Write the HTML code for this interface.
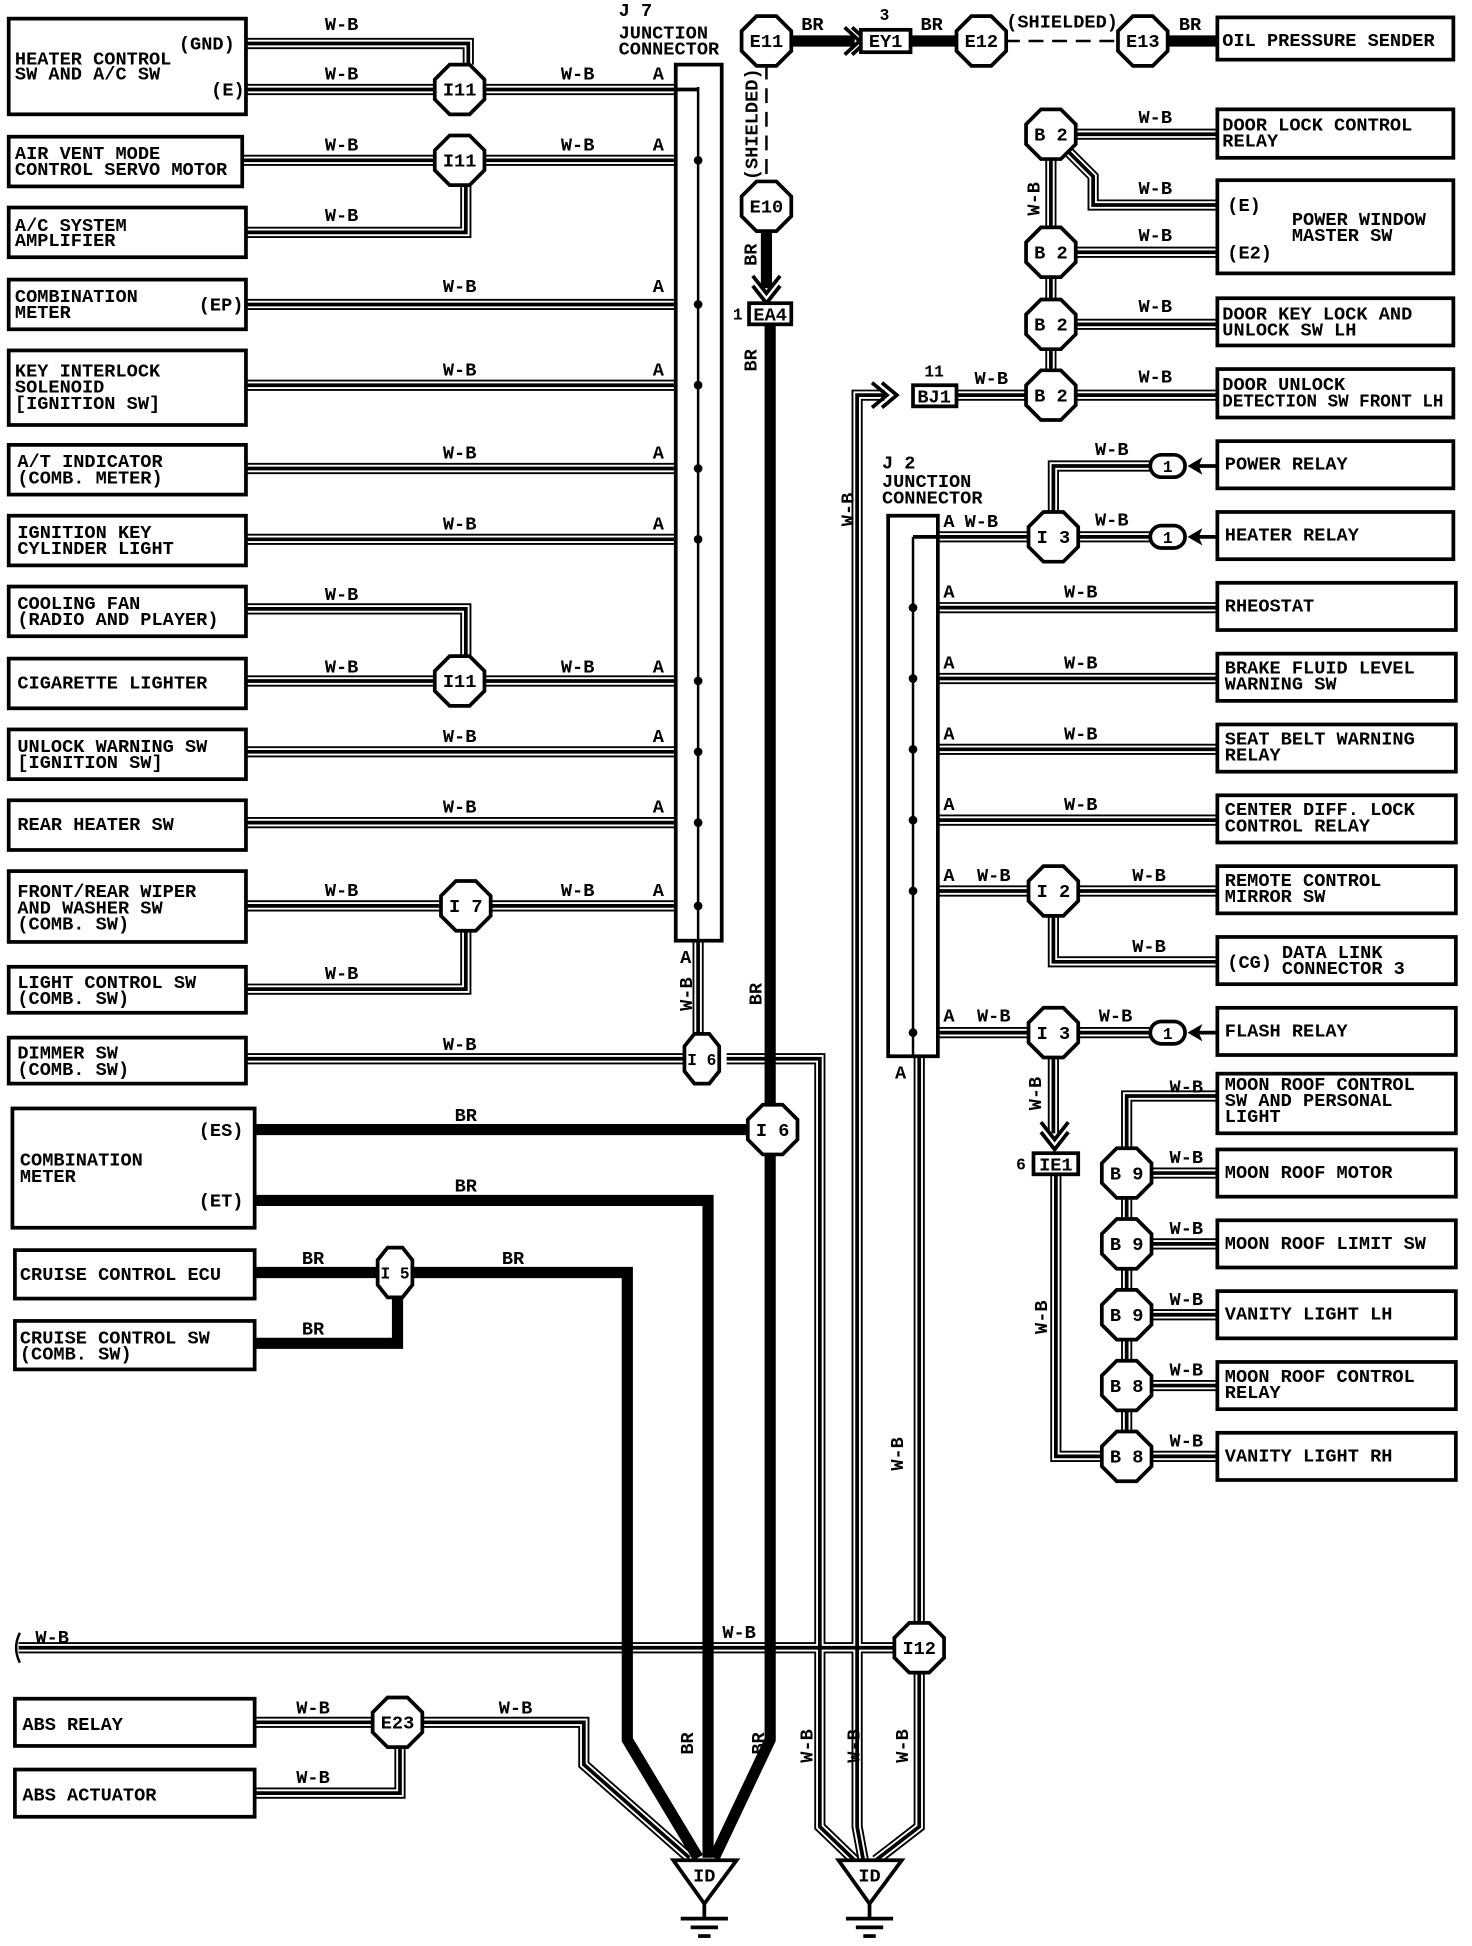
<!DOCTYPE html>
<html><head><meta charset="utf-8"><style>
html,body{margin:0;padding:0;background:#fff}
svg{display:block}
text{font-family:"Liberation Mono",monospace;font-weight:bold;font-size:15px;fill:#000}
.s{font-size:13px}
.box{fill:#fff;stroke:#000;stroke-width:3}
.oct{fill:#fff;stroke:#000;stroke-width:3}
</style></head><body>
<svg width="1472" height="1946" viewBox="0 0 1185 1566" preserveAspectRatio="none" xmlns="http://www.w3.org/2000/svg">
<defs>
<polygon id="oct" points="-8,-20 8,-20 20,-8 20,8 8,20 -8,20 -20,8 -20,-8"/>
<polygon id="octn" points="-6,-20 6,-20 14,-10 14,10 6,20 -6,20 -14,10 -14,-10"/>
<g id="wb" fill="none" stroke-linejoin="miter">
<path d="M198,35 H377 V52"/>
<path d="M198,72 H562"/>
<path d="M195,129 H562"/>
<path d="M198,187 H375 V149"/>
<path d="M198,245 H562"/><path d="M198,310 H562"/><path d="M198,377 H562"/><path d="M198,434 H562"/>
<path d="M198,490 H375 V528"/><path d="M198,548 H562"/>
<path d="M198,605 H562"/><path d="M198,662 H562"/>
<path d="M198,729 H562"/><path d="M198,796 H375 V749"/>
<path d="M198,852 H562"/>
<path d="M562,757 V832"/>
<path d="M585,852 H660 V1470 L688,1497"/>
<path d="M205,1386 H470 V1420 L555,1495"/>
<path d="M205,1443 H322 V1406"/>
<path d="M15,1326 H740"/>
<path d="M712,318 H690 V1470 L695,1497"/>
<path d="M740,850 V1470 L705,1497"/>
<path d="M755,432 H930"/><path d="M848,432 V375 H930"/>
<path d="M755,489 H980"/><path d="M755,546 H980"/><path d="M755,603 H980"/><path d="M755,660 H980"/>
<path d="M755,717 H980"/><path d="M848,717 V774 H980"/>
<path d="M755,831 H930"/><path d="M848,831 V912"/>
<path d="M846,108 H980"/><path d="M846,108 L880,142 V165 H980"/>
<path d="M846,203 H980"/><path d="M846,261 H980"/><path d="M770,318 H980"/>
<path d="M846,108 V318"/>
<path d="M907,944 V882 H980"/><path d="M907,944 V1172"/>
<path d="M907,944 H980"/><path d="M907,1001 H980"/><path d="M907,1058 H980"/><path d="M907,1115 H980"/><path d="M907,1172 H980"/>
<path d="M850,945 V1172 H907"/>
</g>
</defs>
<use href="#wb" stroke="#000" stroke-width="9"/>
<use href="#wb" stroke="#fff" stroke-width="6"/>
<use href="#wb" stroke="#000" stroke-width="3"/>

<g fill="none" stroke="#000" stroke-width="9" stroke-linejoin="miter">
<path d="M617,33 H688"/><path d="M733,33 H790"/><path d="M920,33 H980"/>
<path d="M617,166 V232"/>
<path d="M620,261 V1400 L575,1495"/>
<path d="M205,909 H622"/>
<path d="M205,966 H570 V1495"/>
<path d="M205,1024 H505 V1400 L562,1495"/>
<path d="M205,1081 H320 V1044"/>
</g>
<g fill="none" stroke="#000" stroke-width="2" stroke-dasharray="12,7">
<path d="M790,33 H920"/><path d="M617,33 V166"/>
</g>
<g fill="none" stroke="#000" stroke-width="3">
<path d="M680,22 L692,33 L680,44"/><path d="M686,22 L698,33 L686,44"/>
<path d="M606,222 L617,236 L628,222"/><path d="M606,230 L617,244 L628,230"/>
<path d="M702,308 L714,318 L702,328"/><path d="M710,308 L722,318 L710,328"/>
<path d="M838,903 L849,917 L860,903"/><path d="M838,911 L849,925 L860,911"/>
</g>
<rect x="544" y="52" width="37" height="705" class="box"/>
<line x1="562" y1="70" x2="562" y2="757" stroke="#000" stroke-width="2"/>
<line x1="544" y1="72" x2="562" y2="72" stroke="#000" stroke-width="3"/>
<g fill="#000"><circle cx="562" cy="129" r="3.5"/><circle cx="562" cy="245" r="3.5"/><circle cx="562" cy="310" r="3.5"/><circle cx="562" cy="377" r="3.5"/><circle cx="562" cy="434" r="3.5"/><circle cx="562" cy="548" r="3.5"/><circle cx="562" cy="605" r="3.5"/><circle cx="562" cy="662" r="3.5"/><circle cx="562" cy="729" r="3.5"/></g>
<rect x="715" y="415" width="40" height="435" class="box"/>
<line x1="735" y1="432" x2="735" y2="850" stroke="#000" stroke-width="2"/>
<line x1="735" y1="432" x2="755" y2="432" stroke="#000" stroke-width="3"/>
<g fill="#000"><circle cx="735" cy="489" r="3.5"/><circle cx="735" cy="546" r="3.5"/><circle cx="735" cy="603" r="3.5"/><circle cx="735" cy="660" r="3.5"/><circle cx="735" cy="717" r="3.5"/><circle cx="735" cy="831" r="3.5"/></g>

<rect x="7" y="15" width="191" height="77" class="box"/>
<rect x="7" y="110" width="188" height="40" class="box"/>
<rect x="7" y="167" width="191" height="40" class="box"/>
<rect x="7" y="225" width="191" height="40" class="box"/>
<rect x="7" y="282" width="191" height="60" class="box"/>
<rect x="7" y="358" width="191" height="40" class="box"/>
<rect x="7" y="415" width="191" height="40" class="box"/>
<rect x="7" y="472" width="191" height="40" class="box"/>
<rect x="7" y="530" width="191" height="40" class="box"/>
<rect x="7" y="587" width="191" height="40" class="box"/>
<rect x="7" y="644" width="191" height="40" class="box"/>
<rect x="7" y="701" width="191" height="57" class="box"/>
<rect x="7" y="778" width="191" height="37" class="box"/>
<rect x="7" y="835" width="191" height="37" class="box"/>
<rect x="10" y="892" width="195" height="96" class="box"/>
<rect x="12" y="1006" width="193" height="39" class="box"/>
<rect x="12" y="1063" width="193" height="39" class="box"/>
<rect x="12" y="1367" width="193" height="38" class="box"/>
<rect x="12" y="1424" width="193" height="38" class="box"/>
<rect x="980" y="14" width="190" height="34" class="box"/>
<rect x="980" y="88" width="190" height="39" class="box"/>
<rect x="980" y="145" width="190" height="75" class="box"/>
<rect x="980" y="240" width="190" height="38" class="box"/>
<rect x="980" y="297" width="190" height="39" class="box"/>
<rect x="980" y="355" width="190" height="38" class="box"/>
<rect x="980" y="412" width="190" height="38" class="box"/>
<rect x="980" y="469" width="192" height="38" class="box"/>
<rect x="980" y="526" width="192" height="38" class="box"/>
<rect x="980" y="583" width="192" height="38" class="box"/>
<rect x="980" y="640" width="192" height="38" class="box"/>
<rect x="980" y="697" width="192" height="38" class="box"/>
<rect x="980" y="754" width="192" height="38" class="box"/>
<rect x="980" y="811" width="192" height="38" class="box"/>
<rect x="980" y="864" width="192" height="48" class="box"/>
<rect x="980" y="925" width="192" height="38" class="box"/>
<rect x="980" y="982" width="192" height="38" class="box"/>
<rect x="980" y="1039" width="192" height="38" class="box"/>
<rect x="980" y="1096" width="192" height="38" class="box"/>
<rect x="980" y="1153" width="192" height="38" class="box"/>
<rect x="693" y="24" width="40" height="18" class="box"/>
<rect x="603" y="244" width="34" height="17" class="box"/>
<rect x="735" y="310" width="35" height="17" class="box"/>
<rect x="832" y="928" width="36" height="17" class="box"/>

<g class="oct">
<use href="#oct" x="370" y="72"/><use href="#oct" x="370" y="129"/><use href="#oct" x="370" y="548"/><use href="#oct" x="375" y="729"/>
<use href="#octn" x="565" y="852"/><use href="#oct" x="622" y="909"/><use href="#octn" x="318" y="1024"/>
<use href="#oct" x="617" y="33"/><use href="#oct" x="790" y="33"/><use href="#oct" x="920" y="33"/><use href="#oct" x="617" y="166"/>
<use href="#oct" x="846" y="108"/><use href="#oct" x="846" y="203"/><use href="#oct" x="846" y="261"/><use href="#oct" x="846" y="318"/>
<use href="#oct" x="848" y="432"/><use href="#oct" x="848" y="717"/><use href="#oct" x="848" y="831"/>
<use href="#oct" x="907" y="944"/><use href="#oct" x="907" y="1001"/><use href="#oct" x="907" y="1058"/><use href="#oct" x="907" y="1115"/><use href="#oct" x="907" y="1172"/>
<use href="#oct" x="740" y="1326"/><use href="#oct" x="320" y="1386"/>
</g>
<g fill="#fff" stroke="#000" stroke-width="3">
<rect x="926" y="366" width="28" height="18" rx="9"/>
<rect x="926" y="423" width="28" height="18" rx="9"/>
<rect x="926" y="822" width="28" height="18" rx="9"/>
</g>
<g fill="#000"><path d="M956,375 L968,368 L965,375 L968,382 Z"/><path d="M956,432 L968,425 L965,432 L968,439 Z"/><path d="M956,831 L968,824 L965,831 L968,838 Z"/></g>
<g stroke="#000" stroke-width="3"><line x1="964" y1="375" x2="980" y2="375"/><line x1="964" y1="432" x2="980" y2="432"/><line x1="964" y1="831" x2="980" y2="831"/></g>

<g fill="#fff" stroke="#000" stroke-width="3">
<path d="M542,1497 H593 L567,1532 Z"/><path d="M675,1497 H726 L700,1532 Z"/>
</g>
<g stroke="#000" stroke-width="3">
<line x1="567" y1="1532" x2="567" y2="1544"/><line x1="548" y1="1544" x2="586" y2="1544"/><line x1="556" y1="1551" x2="578" y2="1551"/><line x1="562" y1="1558" x2="572" y2="1558"/>
<line x1="700" y1="1532" x2="700" y2="1544"/><line x1="681" y1="1544" x2="719" y2="1544"/><line x1="689" y1="1551" x2="711" y2="1551"/><line x1="695" y1="1558" x2="705" y2="1558"/>
</g>
<path d="M16,1314 Q10,1326 16,1338" fill="none" stroke="#000" stroke-width="2"/>

<g text-anchor="middle">
<text x="370" y="77">I11</text><text x="370" y="134">I11</text><text x="370" y="553">I11</text><text x="375" y="734">I 7</text>
<text x="565" y="857" class="s">I 6</text><text x="622" y="914">I 6</text><text x="318" y="1029" class="s">I 5</text>
<text x="617" y="38">E11</text><text x="790" y="38">E12</text><text x="920" y="38">E13</text><text x="617" y="171">E10</text>
<text x="846" y="113">B 2</text><text x="846" y="208">B 2</text><text x="846" y="266">B 2</text><text x="846" y="323">B 2</text>
<text x="848" y="437">I 3</text><text x="848" y="722">I 2</text><text x="848" y="836">I 3</text>
<text x="907" y="949">B 9</text><text x="907" y="1006">B 9</text><text x="907" y="1063">B 9</text><text x="907" y="1120">B 8</text><text x="907" y="1177">B 8</text>
<text x="740" y="1331">I12</text><text x="320" y="1391">E23</text>
<text x="940" y="380" class="s">1</text><text x="940" y="437" class="s">1</text><text x="940" y="836" class="s">1</text>
<text x="713" y="38">EY1</text><text x="620" y="258">EA4</text><text x="752" y="324">BJ1</text><text x="850" y="942">IE1</text>
<text x="567" y="1514">ID</text><text x="700" y="1514">ID</text>
<text x="712" y="16" class="s">3</text><text x="752" y="303" class="s">11</text>
</g>
<text x="590" y="257" class="s">1</text><text x="818" y="941" class="s">6</text>

<g class="s">
<text x="144" y="40">(GND)</text><text x="170" y="77">(E)</text><text x="160" y="250">(EP)</text>
<text x="160" y="914">(ES)</text><text x="160" y="971">(ET)</text>
<text x="988" y="170">(E)</text><text x="988" y="208">(E2)</text><text x="988" y="779">(CG)</text>
</g>
<g class="s">
<text x="12" y="52">HEATER CONTROL</text><text x="12" y="64">SW AND A/C SW</text>
<text x="12" y="128">AIR VENT MODE</text><text x="12" y="141">CONTROL SERVO MOTOR</text>
<text x="12" y="186">A/C SYSTEM</text><text x="12" y="198">AMPLIFIER</text>
<text x="12" y="243">COMBINATION</text><text x="12" y="256">METER</text>
<text x="12" y="303">KEY INTERLOCK</text><text x="12" y="316">SOLENOID</text><text x="12" y="329">[IGNITION SW]</text>
<text x="14" y="376">A/T INDICATOR</text><text x="14" y="389">(COMB. METER)</text>
<text x="14" y="433">IGNITION KEY</text><text x="14" y="446">CYLINDER LIGHT</text>
<text x="14" y="490">COOLING FAN</text><text x="14" y="503">(RADIO AND PLAYER)</text>
<text x="14" y="554">CIGARETTE LIGHTER</text>
<text x="14" y="605">UNLOCK WARNING SW</text><text x="14" y="618">[IGNITION SW]</text>
<text x="14" y="668">REAR HEATER SW</text>
<text x="14" y="722">FRONT/REAR WIPER</text><text x="14" y="735">AND WASHER SW</text><text x="14" y="748">(COMB. SW)</text>
<text x="14" y="795">LIGHT CONTROL SW</text><text x="14" y="808">(COMB. SW)</text>
<text x="14" y="852">DIMMER SW</text><text x="14" y="865">(COMB. SW)</text>
<text x="16" y="938">COMBINATION</text><text x="16" y="951">METER</text>
<text x="16" y="1030">CRUISE CONTROL ECU</text>
<text x="16" y="1081">CRUISE CONTROL SW</text><text x="16" y="1094">(COMB. SW)</text>
<text x="18" y="1392">ABS RELAY</text><text x="18" y="1449">ABS ACTUATOR</text>
<text x="498" y="13">J 7</text><text x="498" y="31">JUNCTION</text><text x="498" y="44">CONNECTOR</text>
<text x="710" y="377">J 2</text><text x="710" y="392">JUNCTION</text><text x="710" y="405">CONNECTOR</text>
<text x="984" y="37">OIL PRESSURE SENDER</text>
<text x="984" y="105">DOOR LOCK CONTROL</text><text x="984" y="118">RELAY</text>
<text x="1040" y="181">POWER WINDOW</text><text x="1040" y="194">MASTER SW</text>
<text x="984" y="257">DOOR KEY LOCK AND</text><text x="984" y="270">UNLOCK SW LH</text>
<text x="984" y="314">DOOR UNLOCK</text><text x="984" y="327" textLength="178" lengthAdjust="spacingAndGlyphs">DETECTION SW FRONT LH</text>
<text x="986" y="378">POWER RELAY</text><text x="986" y="435">HEATER RELAY</text><text x="986" y="492">RHEOSTAT</text>
<text x="986" y="542">BRAKE FLUID LEVEL</text><text x="986" y="555">WARNING SW</text>
<text x="986" y="599">SEAT BELT WARNING</text><text x="986" y="612">RELAY</text>
<text x="986" y="656">CENTER DIFF. LOCK</text><text x="986" y="669">CONTROL RELAY</text>
<text x="986" y="713">REMOTE CONTROL</text><text x="986" y="726">MIRROR SW</text>
<text x="1032" y="771">DATA LINK</text><text x="1032" y="784">CONNECTOR 3</text>
<text x="986" y="834">FLASH RELAY</text>
<text x="986" y="877">MOON ROOF CONTROL</text><text x="986" y="890">SW AND PERSONAL</text><text x="986" y="903">LIGHT</text>
<text x="986" y="948">MOON ROOF MOTOR</text><text x="986" y="1005">MOON ROOF LIMIT SW</text><text x="986" y="1062">VANITY LIGHT LH</text>
<text x="986" y="1112">MOON ROOF CONTROL</text><text x="986" y="1125">RELAY</text><text x="986" y="1176">VANITY LIGHT RH</text>
</g>
<g class="s" text-anchor="middle">
<text x="275" y="24">W-B</text><text x="275" y="64">W-B</text><text x="465" y="64">W-B</text>
<text x="275" y="121">W-B</text><text x="465" y="121">W-B</text><text x="275" y="178">W-B</text>
<text x="370" y="235">W-B</text><text x="370" y="302">W-B</text><text x="370" y="369">W-B</text><text x="370" y="426">W-B</text>
<text x="275" y="483">W-B</text><text x="275" y="541">W-B</text><text x="465" y="541">W-B</text>
<text x="370" y="597">W-B</text><text x="370" y="654">W-B</text>
<text x="275" y="721">W-B</text><text x="465" y="721">W-B</text><text x="275" y="788">W-B</text><text x="370" y="845">W-B</text>
<text x="375" y="902">BR</text><text x="375" y="959">BR</text><text x="252" y="1017">BR</text><text x="413" y="1017">BR</text><text x="252" y="1074">BR</text>
<text x="42" y="1322">W-B</text><text x="595" y="1318">W-B</text>
<text x="252" y="1379">W-B</text><text x="415" y="1379">W-B</text><text x="252" y="1435">W-B</text>
<text x="654" y="24">BR</text><text x="750" y="24">BR</text><text x="958" y="24">BR</text><text x="855" y="22">(SHIELDED)</text>
<text x="930" y="99">W-B</text><text x="930" y="156">W-B</text><text x="930" y="194">W-B</text><text x="930" y="251">W-B</text><text x="930" y="308">W-B</text><text x="798" y="309">W-B</text>
<text x="895" y="366">W-B</text><text x="895" y="423">W-B</text><text x="790" y="424">W-B</text>
<text x="870" y="481">W-B</text><text x="870" y="538">W-B</text><text x="870" y="595">W-B</text><text x="870" y="652">W-B</text>
<text x="800" y="709">W-B</text><text x="925" y="709">W-B</text><text x="925" y="766">W-B</text>
<text x="800" y="822">W-B</text><text x="898" y="822">W-B</text>
<text x="955" y="879">W-B</text><text x="955" y="936">W-B</text><text x="955" y="993">W-B</text><text x="955" y="1050">W-B</text><text x="955" y="1107">W-B</text><text x="955" y="1164">W-B</text>
<text x="530" y="64">A</text><text x="530" y="121">A</text><text x="530" y="235">A</text><text x="530" y="302">A</text><text x="530" y="369">A</text><text x="530" y="426">A</text><text x="530" y="541">A</text><text x="530" y="597">A</text><text x="530" y="654">A</text><text x="530" y="721">A</text>
<text x="552" y="775">A</text>
<text x="764" y="424">A</text><text x="764" y="481">A</text><text x="764" y="538">A</text><text x="764" y="595">A</text><text x="764" y="652">A</text><text x="764" y="709">A</text><text x="764" y="822">A</text><text x="725" y="868">A</text>
</g>
<g class="s" text-anchor="middle">
<text transform="translate(610,100) rotate(-90)">(SHIELDED)</text>
<text transform="translate(609,205) rotate(-90)">BR</text>
<text transform="translate(609,290) rotate(-90)">BR</text>
<text transform="translate(613,800) rotate(-90)">BR</text>
<text transform="translate(557,800) rotate(-90)">W-B</text>
<text transform="translate(558,1403) rotate(-90)">BR</text>
<text transform="translate(615,1403) rotate(-90)">BR</text>
<text transform="translate(654,1405) rotate(-90)">W-B</text>
<text transform="translate(692,1405) rotate(-90)">W-B</text>
<text transform="translate(731,1405) rotate(-90)">W-B</text>
<text transform="translate(727,1170) rotate(-90)">W-B</text>
<text transform="translate(687,410) rotate(-90)">W-B</text>
<text transform="translate(837,160) rotate(-90)">W-B</text>
<text transform="translate(838,880) rotate(-90)">W-B</text>
<text transform="translate(843,1060) rotate(-90)">W-B</text>
</g>
</svg>
</body></html>
